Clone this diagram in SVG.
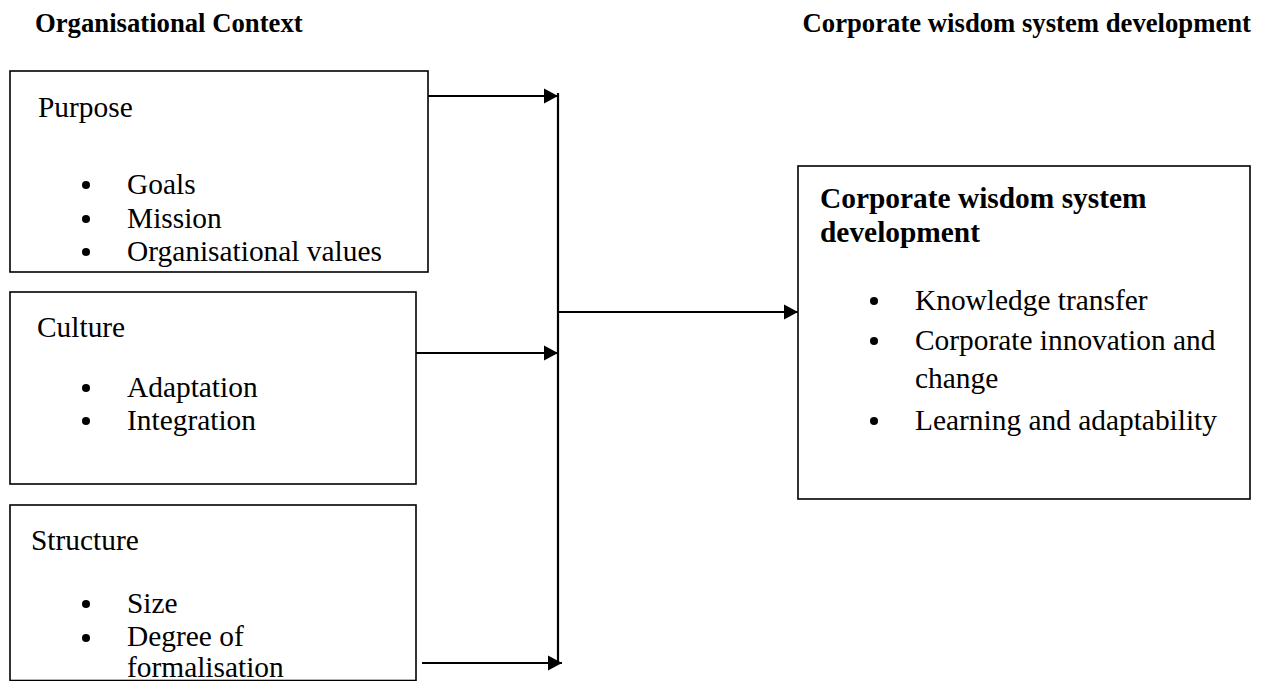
<svg xmlns="http://www.w3.org/2000/svg" width="1264" height="681" viewBox="0 0 1264 681">
  <style>
    .box { fill: #ffffff; stroke: #000000; stroke-width: 1.6; }
    .head { font-family: "Liberation Serif", "Times New Roman", serif; font-weight: bold; font-size: 26.7px; fill: #000; }
    .title { font-family: "Liberation Serif", "Times New Roman", serif; font-size: 29.4px; fill: #000; }
    .btitle { font-family: "Liberation Serif", "Times New Roman", serif; font-weight: bold; font-size: 29.4px; fill: #000; }
    .item { font-family: "Liberation Serif", "Times New Roman", serif; font-size: 29.4px; fill: #000; }
    .dot { fill: #000; }
    .link { fill: none; stroke: #000; stroke-width: 2.2; }
  </style>
  <defs>
    <marker id="arrow" markerUnits="userSpaceOnUse" markerWidth="16" markerHeight="16" viewBox="0 0 16 16" refX="15" refY="8" orient="auto">
      <path d="M1,0.5 L15,8 L1,15.5 Z" fill="#000"/>
    </marker>
  </defs>

  <!-- column headings -->
  <text class="head" x="35" y="32">Organisational Context</text>
  <text class="head" x="1251" y="32" text-anchor="end">Corporate wisdom system development</text>

  <!-- Purpose -->
  <g id="purpose">
    <rect class="box" x="10" y="71" width="418" height="201"/>
    <text class="title" x="38" y="117">Purpose</text>
    <circle class="dot" cx="86" cy="185" r="4"/>
    <text class="item" x="127" y="194">Goals</text>
    <circle class="dot" cx="86" cy="219" r="4"/>
    <text class="item" x="127" y="228">Mission</text>
    <circle class="dot" cx="86" cy="252" r="4"/>
    <text class="item" x="127" y="261">Organisational values</text>
  </g>

  <!-- Culture -->
  <g id="culture">
    <rect class="box" x="10" y="292" width="406" height="192"/>
    <text class="title" x="37" y="337">Culture</text>
    <circle class="dot" cx="86" cy="388" r="4"/>
    <text class="item" x="127" y="397">Adaptation</text>
    <circle class="dot" cx="86" cy="421" r="4"/>
    <text class="item" x="127" y="430">Integration</text>
  </g>

  <!-- Structure -->
  <g id="structure">
    <rect class="box" x="10" y="505" width="406" height="175.5"/>
    <text class="title" x="31" y="550">Structure</text>
    <circle class="dot" cx="86" cy="604" r="4"/>
    <text class="item" x="127" y="613">Size</text>
    <circle class="dot" cx="86" cy="638" r="4"/>
    <text class="item" x="127" y="646">Degree of</text>
    <text class="item" x="127" y="677">formalisation</text>
  </g>

  <!-- Corporate wisdom system development -->
  <g id="cwsd">
    <rect class="box" x="798" y="166" width="452" height="333"/>
    <text class="btitle" x="820" y="208">Corporate wisdom system</text>
    <text class="btitle" x="820" y="242">development</text>
    <circle class="dot" cx="874" cy="301" r="4"/>
    <text class="item" x="915" y="310">Knowledge transfer</text>
    <circle class="dot" cx="874" cy="341" r="4"/>
    <text class="item" x="915" y="350">Corporate innovation and</text>
    <text class="item" x="915" y="388">change</text>
    <circle class="dot" cx="874" cy="421" r="4"/>
    <text class="item" x="915" y="430">Learning and adaptability</text>
  </g>

  <!-- connectors -->
  <g id="connectors">
    <line class="link" x1="558" y1="93" x2="558" y2="664"/>
    <line class="link" x1="428" y1="96" x2="558" y2="96" marker-end="url(#arrow)"/>
    <line class="link" x1="416" y1="353" x2="558" y2="353" marker-end="url(#arrow)"/>
    <line class="link" x1="422" y1="663" x2="562" y2="663" marker-end="url(#arrow)"/>
    <line class="link" x1="558" y1="312" x2="798" y2="312" marker-end="url(#arrow)"/>
  </g>
</svg>
